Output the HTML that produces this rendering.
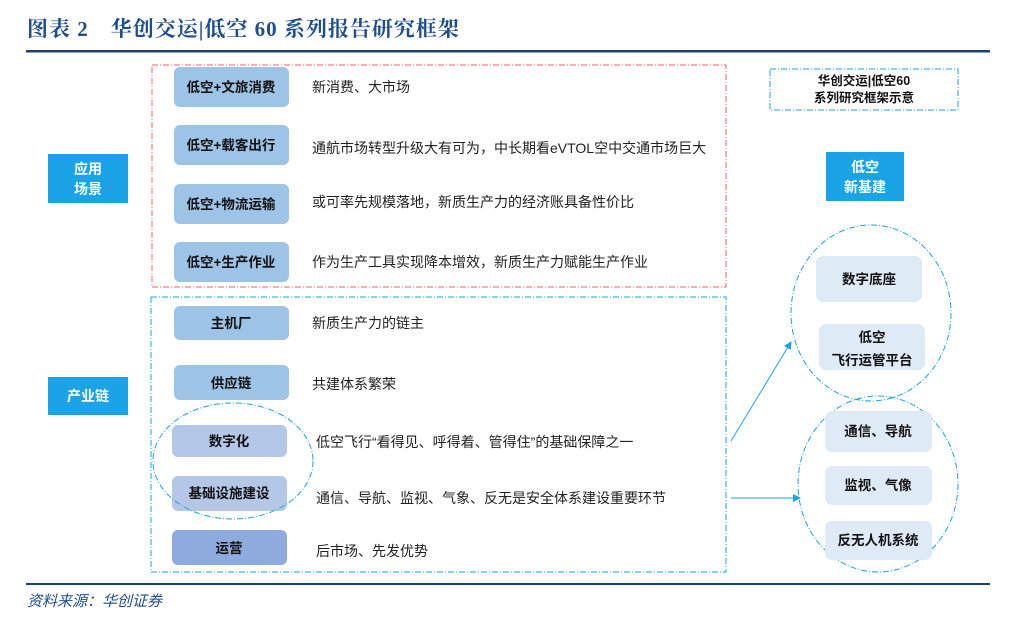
<!DOCTYPE html>
<html><head><meta charset="utf-8"><style>
body{margin:0;background:#fff;}
svg text{font-family:"Liberation Sans","Noto Sans CJK SC",sans-serif;}
</style></head><body>
<svg width="1020" height="625" xmlns="http://www.w3.org/2000/svg">
<defs><marker id="ar" markerWidth="8" markerHeight="8" refX="7" refY="4" orient="auto"><path d="M0,0L8,4L0,8z" fill="#1aa3e6"/></marker></defs>
<text x="27" y="36" font-size="21" font-weight="bold" fill="#1f4e8c" letter-spacing="1" style="font-family:'Liberation Serif','Noto Serif CJK SC',serif">图表 2　华创交运|低空 60 系列报告研究框架</text>
<rect x="26" y="50" width="964" height="2.5" fill="#1f3f7a"/>
<rect x="152" y="65" width="574" height="222" fill="none" stroke="#f06060" stroke-dasharray="6,2,1,2"/>
<rect x="151" y="297" width="575" height="275" fill="none" stroke="#1aa3e6" stroke-dasharray="6,2,1,2"/>
<rect x="48" y="154" width="80" height="49" fill="#1aa3e6"/>
<text x="88" y="174" font-size="14" font-weight="bold" fill="#fff" text-anchor="middle">应用</text>
<text x="88" y="194" font-size="14" font-weight="bold" fill="#fff" text-anchor="middle">场景</text>
<rect x="48" y="377" width="80" height="38" fill="#1aa3e6"/>
<text x="88" y="401" font-size="14" font-weight="bold" fill="#fff" text-anchor="middle">产业链</text>
<g font-size="13.5" font-weight="bold" fill="#111" text-anchor="middle">
<rect x="174" y="67" width="115" height="40" rx="6" fill="#9dc3e6"/><text x="231" y="92">低空+文旅消费</text>
<rect x="174" y="125" width="115" height="40" rx="6" fill="#9dc3e6"/><text x="231" y="150">低空+载客出行</text>
<rect x="174" y="184" width="115" height="40" rx="6" fill="#9dc3e6"/><text x="231" y="209">低空+物流运输</text>
<rect x="174" y="242" width="115" height="40" rx="6" fill="#9dc3e6"/><text x="231" y="267">低空+生产作业</text>
<rect x="174" y="306" width="115" height="34" rx="6" fill="#9dc3e6"/><text x="231" y="328">主机厂</text>
<rect x="174" y="365" width="115" height="35" rx="6" fill="#9dc3e6"/><text x="231" y="388">供应链</text>
<rect x="172" y="425" width="115" height="32" rx="6" fill="#b4c7e7"/><text x="229" y="446">数字化</text>
<rect x="172" y="476" width="115" height="35" rx="6" fill="#b4c7e7"/><text x="229" y="498">基础设施建设</text>
<rect x="172" y="530" width="115" height="35" rx="6" fill="#8faadc"/><text x="229" y="553">运营</text>
</g>
<g font-size="14" fill="#222">
<text x="312" y="92">新消费、大市场</text>
<text x="312" y="153">通航市场转型升级大有可为，中长期看eVTOL空中交通市场巨大</text>
<text x="312" y="207">或可率先规模落地，新质生产力的经济账具备性价比</text>
<text x="312" y="267">作为生产工具实现降本增效，新质生产力赋能生产作业</text>
<text x="312" y="328">新质生产力的链主</text>
<text x="312" y="389">共建体系繁荣</text>
<text x="316" y="447">低空飞行“看得见、呼得着、管得住”的基础保障之一</text>
<text x="316" y="503">通信、导航、监视、气象、反无是安全体系建设重要环节</text>
<text x="316" y="556">后市场、先发优势</text>
</g>
<ellipse cx="233" cy="461" rx="80" ry="58" fill="none" stroke="#1aa3e6" stroke-dasharray="6,2,1,2"/>
<rect x="770" y="69" width="188" height="41" fill="none" stroke="#1aa3e6" stroke-dasharray="6,2,1,2"/>
<text x="864" y="85" font-size="12.5" font-weight="bold" text-anchor="middle" fill="#111">华创交运|低空60</text>
<text x="864" y="102" font-size="12.5" font-weight="bold" text-anchor="middle" fill="#111">系列研究框架示意</text>
<rect x="826" y="152" width="78" height="49" fill="#1aa3e6"/>
<text x="865" y="172" font-size="14" font-weight="bold" fill="#fff" text-anchor="middle">低空</text>
<text x="865" y="192" font-size="14" font-weight="bold" fill="#fff" text-anchor="middle">新基建</text>
<ellipse cx="871" cy="313" rx="80" ry="88" fill="none" stroke="#1aa3e6" stroke-dasharray="6,2,1,2"/>
<ellipse cx="878" cy="484" rx="80" ry="88" fill="none" stroke="#1aa3e6" stroke-dasharray="6,2,1,2"/>
<g font-size="13.5" font-weight="bold" fill="#111" text-anchor="middle">
<rect x="816" y="256" width="106" height="46" rx="7" fill="#deeaf6"/><text x="869" y="284">数字底座</text>
<rect x="819" y="324" width="106" height="46" rx="7" fill="#deeaf6"/><text x="872" y="342">低空</text><text x="872" y="365">飞行运管平台</text>
<rect x="825" y="411" width="107" height="41" rx="7" fill="#deeaf6"/><text x="878" y="436">通信、导航</text>
<rect x="825" y="466" width="107" height="39" rx="7" fill="#deeaf6"/><text x="878" y="490">监视、气像</text>
<rect x="825" y="521" width="107" height="39" rx="7" fill="#deeaf6"/><text x="878" y="545">反无人机系统</text>
</g>
<line x1="731" y1="441" x2="791" y2="342" stroke="#1aa3e6" marker-end="url(#ar)"/>
<line x1="731" y1="498" x2="800" y2="498" stroke="#1aa3e6" marker-end="url(#ar)"/>
<rect x="26" y="583" width="964" height="2" fill="#1f3f7a"/>
<text x="27" y="606" font-size="15" font-style="italic" fill="#1f4e8c">资料来源：华创证券</text>
</svg>
</body></html>
